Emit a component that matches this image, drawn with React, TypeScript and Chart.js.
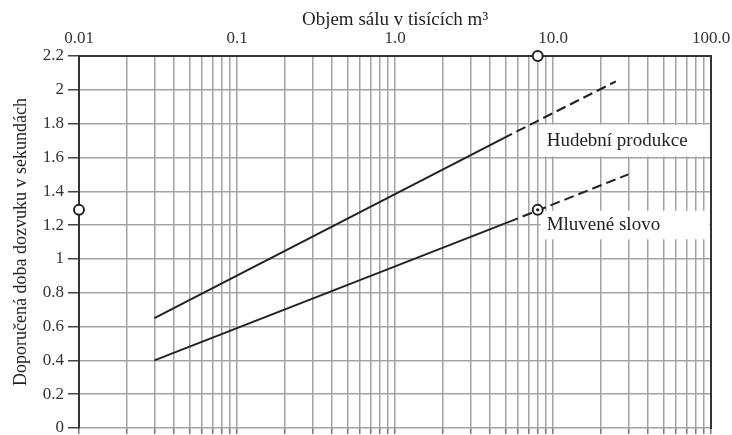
import React, { useEffect, useRef } from 'react';
import { Chart, registerables } from 'chart.js';

Chart.register(...registerables);

// ---- axis ticks ----
const xMajorValues = [0.01, 0.1, 1, 10, 100];
const xMajorLabels = ['0.01', '0.1', '1.0', '10.0', '100.0'];
const xMinorMultipliers = [1, 2, 3, 4, 5, 6, 7, 8, 9];
const yTickValues = [0, 0.2, 0.4, 0.6, 0.8, 1, 1.2, 1.4, 1.6, 1.8, 2, 2.2];
const yTickLabels = ['0', '0.2', '0.4', '0.6', '0.8', '1', '1.2', '1.4', '1.6', '1.8', '2', '2.2'];

// ---- series ----
const musicSolidX = [0.03, 5.5];
const musicSolidY = [0.65, 1.74];
const musicDashX = [5.5, 25];
const musicDashY = [1.74, 2.05];
const speechSolidX = [0.03, 6];
const speechSolidY = [0.4, 1.24];
const speechDashX = [6, 30];
const speechDashY = [1.24, 1.5];
const readingX = [8];
const readingY = [1.29];
const guideX = [0.01, 8];
const guideY = [1.29, 2.2];

const curveNames = ['Hudební produkce', 'Mluvené slovo'];
const xTitle = 'Objem sálu v tisících m³';
const yTitle = 'Doporučená doba dozvuku v sekundách';

const FONT = '"Liberation Serif", "DejaVu Serif", serif';

const zip = (xs: number[], ys: number[]) => xs.map((x, i) => ({ x, y: ys[i] }));

const gridValues: number[] = [];
xMajorValues.forEach((m, i) => {
  if (i === xMajorValues.length - 1) {
    gridValues.push(m);
  } else {
    xMinorMultipliers.forEach((k) => gridValues.push(m * k));
  }
});

const majorLabel = (v: number) => {
  const j = xMajorValues.findIndex((m) => Math.abs(Math.log10(m) - Math.log10(v)) < 1e-6);
  return j >= 0 ? xMajorLabels[j] : '';
};

// label placements (in data units)
const labelPlacements = [
  { name: curveNames[0], fromX: 8, top: 1.8, bottom: 1.6, textY: 1.7 },
  { name: curveNames[1], fromX: 8, top: 1.29, bottom: 1.11, textY: 1.2 },
];

const labelPlugin = {
  id: 'curveLabels',
  beforeDatasetsDraw(chart: any) {
    const { ctx, chartArea, scales } = chart;
    const xs = scales.x;
    const ys = scales.y;
    ctx.save();
    labelPlacements.forEach((p) => {
      const left = xs.getPixelForValue(p.fromX) + 3;
      const top = ys.getPixelForValue(p.top) + 1;
      const bottom = ys.getPixelForValue(p.bottom) - 1;
      ctx.fillStyle = '#ffffff';
      ctx.fillRect(left, top, chartArea.right - 1.5 - left, bottom - top);
      ctx.fillStyle = '#222';
      ctx.font = `19px ${FONT}`;
      ctx.textBaseline = 'middle';
      ctx.textAlign = 'left';
      ctx.fillText(p.name, left + 6, ys.getPixelForValue(p.textY));
    });
    ctx.restore();
  },
};

export default function App() {
  const ref = useRef<HTMLCanvasElement | null>(null);

  useEffect(() => {
    if (!ref.current) return;
    const lineBase = {
      showLine: true,
      borderColor: '#222',
      borderWidth: 2,
      pointRadius: 0,
      fill: false,
      order: 2,
    };
    const chart = new Chart(ref.current, {
      type: 'scatter',
      data: {
        datasets: [
          { ...lineBase, label: curveNames[0], data: zip(musicSolidX, musicSolidY) },
          { ...lineBase, label: curveNames[0] + ' (ext)', data: zip(musicDashX, musicDashY), borderDash: [10, 5], borderDashOffset: 10 },
          { ...lineBase, label: curveNames[1], data: zip(speechSolidX, speechSolidY) },
          { ...lineBase, label: curveNames[1] + ' (ext)', data: zip(speechDashX, speechDashY), borderDash: [10, 5], borderDashOffset: 10 },
          {
            label: 'guide',
            data: zip(guideX, guideY),
            showLine: false,
            pointRadius: 5,
            pointBorderWidth: 2,
            pointBackgroundColor: '#fff',
            pointBorderColor: '#222',
            clip: false,
            order: 0,
          },
          {
            label: 'reading',
            data: zip(readingX, readingY),
            showLine: false,
            pointRadius: 5,
            pointBorderWidth: 2,
            pointBackgroundColor: '#fff',
            pointBorderColor: '#222',
            clip: false,
            order: 0,
          },
          {
            label: 'reading dot',
            data: zip(readingX, readingY),
            showLine: false,
            pointRadius: 1.6,
            pointBorderWidth: 0,
            pointBackgroundColor: '#111',
            clip: false,
            order: -1,
          },
        ],
      } as any,
      options: {
        animation: false,
        responsive: true,
        maintainAspectRatio: false,
        events: [],
        layout: { padding: 0 },
        plugins: {
          legend: { display: false },
          tooltip: { enabled: false },
          title: { display: false },
        },
        scales: {
          x: {
            type: 'logarithmic',
            position: 'top',
            min: 0.01,
            max: 100,
            afterBuildTicks: (s: any) => {
              s.ticks = gridValues.map((v) => ({ value: v }));
            },
            afterFit: (s: any) => {
              s.height = 56;
              s.paddingLeft = 0;
              s.paddingRight = 0;
            },
            ticks: {
              autoSkip: false,
              maxRotation: 0,
              minRotation: 0,
              padding: 7,
              color: '#333',
              font: { family: FONT, size: 17 },
              callback: (v: any) => majorLabel(Number(v)),
            },
            grid: { color: '#a3a3a3', lineWidth: 1.5, drawTicks: false },
            border: { color: '#333', width: 2 },
            title: {
              display: true,
              text: xTitle,
              color: '#222',
              padding: { top: 9, bottom: 0 },
              font: { family: FONT, size: 19 },
            },
          },
          x2: {
            type: 'logarithmic',
            position: 'bottom',
            min: 0.01,
            max: 100,
            afterBuildTicks: (s: any) => {
              s.ticks = gridValues.map((v) => ({ value: v }));
            },
            afterFit: (s: any) => {
              s.height = 4;
              s.paddingLeft = 0;
              s.paddingRight = 0;
            },
            ticks: { display: false, autoSkip: false },
            grid: { drawOnChartArea: false, tickLength: 6, color: '#777', lineWidth: 1.5 },
            border: { display: false },
          },
          y: {
            type: 'linear',
            position: 'left',
            min: 0,
            max: 2.2,
            afterBuildTicks: (s: any) => {
              s.ticks = yTickValues.map((v) => ({ value: v }));
            },
            afterFit: (s: any) => {
              s.width = 79;
              s.paddingTop = 0;
              s.paddingBottom = 0;
            },
            ticks: {
              padding: 4,
              color: '#333',
              font: { family: FONT, size: 17 },
              callback: (_v: any, i: number) => yTickLabels[i],
            },
            grid: { color: '#a3a3a3', lineWidth: 1.5, tickLength: 11, tickColor: '#444', tickWidth: 1.5 },
            border: { color: '#333', width: 2 },
            title: {
              display: true,
              text: yTitle,
              color: '#222',
              padding: { top: 10, bottom: 0 },
              font: { family: FONT, size: 18 },
            },
          },
          y2: {
            type: 'linear',
            position: 'right',
            min: 0,
            max: 2.2,
            afterFit: (s: any) => {
              s.width = 21;
              s.paddingTop = 0;
              s.paddingBottom = 0;
            },
            ticks: { display: false },
            grid: { drawOnChartArea: false, drawTicks: false },
            border: { color: '#333', width: 2 },
          },
        },
      } as any,
      plugins: [labelPlugin],
    });
    return () => chart.destroy();
  }, []);

  return (
    <div style={{ position: 'fixed', left: 0, top: 0, width: 732, height: 435, background: '#fff' }}>
      <canvas ref={ref} />
    </div>
  );
}
